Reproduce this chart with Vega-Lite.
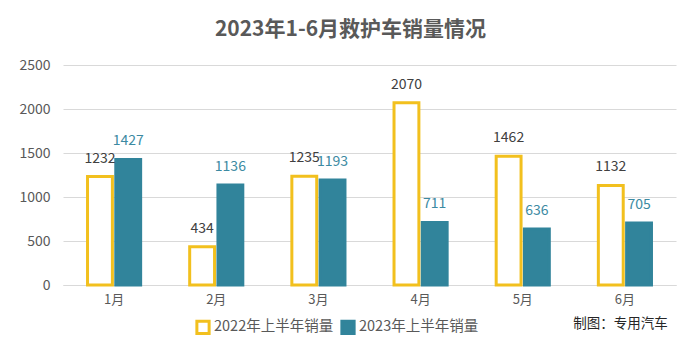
{
  "$schema": "https://vega.github.io/schema/vega-lite/v6.json",
  "width": 613,
  "height": 220,
  "autosize": {"type": "none"},
  "padding": {"left": 63, "top": 65, "right": 24, "bottom": 75},
  "background": "#ffffff",
  "config": {
    "font": "Noto Sans CJK SC",
    "view": {"stroke": null}
  },
  "title": {
    "text": "2023年1-6月救护车销量情况",
    "fontSize": 21,
    "fontWeight": "bold",
    "color": "#595959",
    "anchor": "middle",
    "dx": -19,
    "offset": 18,
    "font": "Noto Sans CJK SC"
  },
  "data": {
    "values": [
      {"month": "1月", "series": "2022年上半年销量", "value": 1232},
      {"month": "1月", "series": "2023年上半年销量", "value": 1427},
      {"month": "2月", "series": "2022年上半年销量", "value": 434},
      {"month": "2月", "series": "2023年上半年销量", "value": 1136},
      {"month": "3月", "series": "2022年上半年销量", "value": 1235},
      {"month": "3月", "series": "2023年上半年销量", "value": 1193},
      {"month": "4月", "series": "2022年上半年销量", "value": 2070},
      {"month": "4月", "series": "2023年上半年销量", "value": 711},
      {"month": "5月", "series": "2022年上半年销量", "value": 1462},
      {"month": "5月", "series": "2023年上半年销量", "value": 636},
      {"month": "6月", "series": "2022年上半年销量", "value": 1132},
      {"month": "6月", "series": "2023年上半年销量", "value": 705}
    ]
  },
  "encoding": {
    "x": {
      "field": "month",
      "type": "nominal",
      "sort": ["1月", "2月", "3月", "4月", "5月", "6月"],
      "scale": {"paddingInner": 0.48, "paddingOuter": 0.24},
      "axis": {
        "title": "制图：专用汽车",
        "titleX": 557,
        "titleY": 42,
        "titleAlign": "center",
        "titleBaseline": "alphabetic",
        "titleFontSize": 13.5,
        "titleFontWeight": "normal",
        "titleColor": "#262626",
        "labelAngle": 0,
        "labelFontSize": 13,
        "labelColor": "#595959",
        "labelPadding": 8,
        "ticks": false,
        "domainColor": "#d9d9d9",
        "domainWidth": 1
      }
    },
    "xOffset": {
      "field": "series",
      "type": "nominal",
      "scale": {"paddingInner": 0.12}
    },
    "y": {
      "field": "value",
      "type": "quantitative",
      "scale": {"domain": [0, 2500]},
      "axis": {
        "title": null,
        "values": [0, 500, 1000, 1500, 2000, 2500],
        "format": "d",
        "labelFontSize": 14,
        "labelColor": "#595959",
        "labelPadding": 13,
        "ticks": false,
        "domain": false,
        "gridColor": "#d9d9d9",
        "gridWidth": 1
      }
    }
  },
  "layer": [
    {
      "mark": {"type": "bar", "strokeWidth": 3},
      "encoding": {
        "fill": {
          "field": "series",
          "type": "nominal",
          "scale": {
            "domain": ["2022年上半年销量", "2023年上半年销量"],
            "range": ["#ffffff", "#31849B"]
          },
          "legend": {
            "title": null,
            "orient": "none",
            "direction": "horizontal",
            "legendX": 132,
            "legendY": 254,
            "symbolType": "square",
            "symbolSize": 150,
            "symbolStrokeWidth": 3,
            "labelFontSize": 14.5,
            "labelColor": "#595959",
            "columnPadding": 1,
            "labelOffset": 3
          }
        },
        "stroke": {
          "field": "series",
          "type": "nominal",
          "scale": {
            "domain": ["2022年上半年销量", "2023年上半年销量"],
            "range": ["#F2C01E", "#31849B"]
          },
          "legend": {
            "title": null,
            "orient": "none",
            "direction": "horizontal",
            "legendX": 132,
            "legendY": 254,
            "symbolType": "square",
            "symbolSize": 150,
            "symbolStrokeWidth": 3,
            "labelFontSize": 14.5,
            "labelColor": "#595959",
            "columnPadding": 1,
            "labelOffset": 3
          }
        }
      }
    },
    {
      "mark": {"type": "text", "baseline": "alphabetic", "dy": -14, "fontSize": 14},
      "encoding": {
        "text": {"field": "value", "type": "quantitative"},
        "color": {
          "condition": {"test": "datum.series === '2022年上半年销量'", "value": "#404040"},
          "value": "#3C8AA2"
        }
      }
    }
  ]
}
